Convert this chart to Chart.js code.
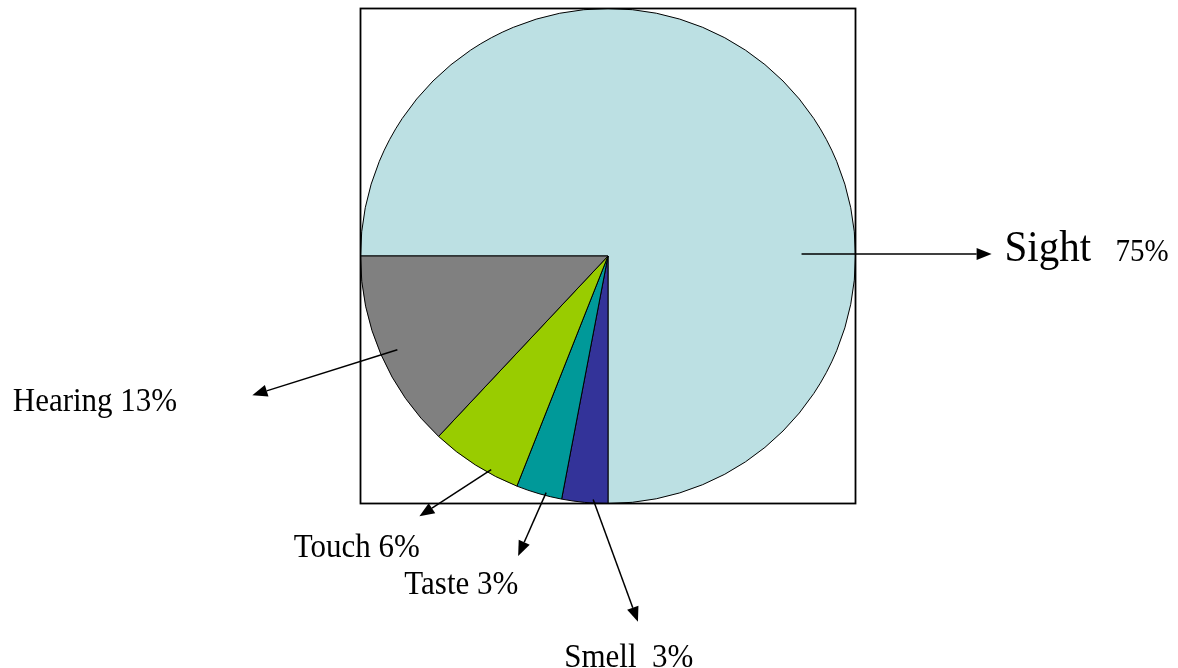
<!DOCTYPE html>
<html>
<head>
<meta charset="utf-8">
<title>Senses</title>
<script src="https://cdn.jsdelivr.net/npm/chart.js@4.4.1/dist/chart.umd.min.js"></script>
<style>
  html, body { margin: 0; padding: 0; background: #ffffff; }
  #wrap { width: 1178px; height: 668px; position: relative; }
</style>
</head>
<body>
<div id="wrap"><canvas id="chart" width="1178" height="668"></canvas></div>
<script>
// Share of perception by sense
const senses = ['Sight', 'Smell', 'Taste', 'Touch', 'Hearing'];
const shares = [75, 3, 3, 6, 13];
const sliceColors = ['#BCE0E3', '#333399', '#009999', '#99CC00', '#808080'];

// Callout layout, in units of pie radius relative to the pie centre:
// arrow tail, arrow head, and label origin (left edge, baseline).
const serif = '"Liberation Serif", "Times New Roman", serif';
const callouts = [
  { tail: [0.782, -0.008], head: [1.55, -0.008], parts: [
      { text: 'Sight', font: '41px ' + serif, at: [1.602, 0.02] },
      { text: '75%', font: '29px ' + serif, at: [2.05, 0.02] } ] },
  { tail: [-0.06, 0.984], head: [0.121, 1.478], parts: [
      { text: 'Smell  3%', font: '31px ' + serif, at: [-0.177, 1.66] } ] },
  { tail: [-0.25, 0.956], head: [-0.363, 1.212], parts: [
      { text: 'Taste 3%', font: '31px ' + serif, at: [-0.823, 1.367] } ] },
  { tail: [-0.472, 0.863], head: [-0.762, 1.052], parts: [
      { text: 'Touch 6%', font: '31px ' + serif, at: [-1.27, 1.218] } ] },
  { tail: [-0.851, 0.379], head: [-1.437, 0.563], parts: [
      { text: 'Hearing 13%', font: '31px ' + serif, at: [-2.405, 0.625] } ] }
];

function drawArrow(ctx, x1, y1, x2, y2) {
  const ang = Math.atan2(y2 - y1, x2 - x1);
  const len = 15, half = 6;
  const bx = x2 - len * Math.cos(ang), by = y2 - len * Math.sin(ang);
  ctx.beginPath();
  ctx.moveTo(x1, y1);
  ctx.lineTo(bx, by);
  ctx.stroke();
  ctx.beginPath();
  ctx.moveTo(x2, y2);
  ctx.lineTo(bx + half * Math.sin(ang), by - half * Math.cos(ang));
  ctx.lineTo(bx - half * Math.sin(ang), by + half * Math.cos(ang));
  ctx.closePath();
  ctx.fill();
}

const frameAndCallouts = {
  id: 'frameAndCallouts',
  beforeDraw(chart) {
    const { ctx, width, height } = chart;
    ctx.save();
    ctx.fillStyle = '#ffffff';
    ctx.fillRect(0, 0, width, height);
    ctx.restore();
  },
  afterDatasetsDraw(chart) {
    const { ctx, chartArea } = chart;
    const meta = chart.getDatasetMeta(0);
    const arc0 = meta.data[0];
    const cx = arc0.x, cy = arc0.y, r = arc0.outerRadius;

    ctx.save();
    // square frame around the pie
    ctx.strokeStyle = '#000000';
    ctx.lineWidth = 1.8;
    ctx.strokeRect(chartArea.left + 0.5, chartArea.top + 0.5,
                   chartArea.width - 1, chartArea.height - 1);

    ctx.lineWidth = 1.5;
    ctx.fillStyle = '#000000';
    callouts.forEach((c, i) => {
      if (!meta.data[i]) return;
      drawArrow(ctx, cx + c.tail[0] * r, cy + c.tail[1] * r,
                     cx + c.head[0] * r, cy + c.head[1] * r);
      ctx.textBaseline = 'alphabetic';
      ctx.textAlign = 'left';
      c.parts.forEach(p => {
        ctx.save();
        ctx.font = p.font;
        // serif labels are set slightly tall
        ctx.translate(cx + p.at[0] * r, cy + p.at[1] * r);
        ctx.scale(1, 1.07);
        ctx.fillText(p.text, 0, 0);
        ctx.restore();
      });
    });
    ctx.restore();
  }
};

new Chart(document.getElementById('chart'), {
  type: 'pie',
  data: {
    labels: senses,
    datasets: [{
      data: shares,
      backgroundColor: sliceColors,
      borderColor: '#000000',
      borderWidth: 1,
      borderAlign: 'center'
    }]
  },
  options: {
    responsive: false,
    animation: false,
    rotation: -90,
    layout: { padding: { left: 360, right: 322, top: 8, bottom: 164 } },
    plugins: {
      legend: { display: false },
      tooltip: { enabled: false }
    }
  },
  plugins: [frameAndCallouts]
});
</script>
</body>
</html>
